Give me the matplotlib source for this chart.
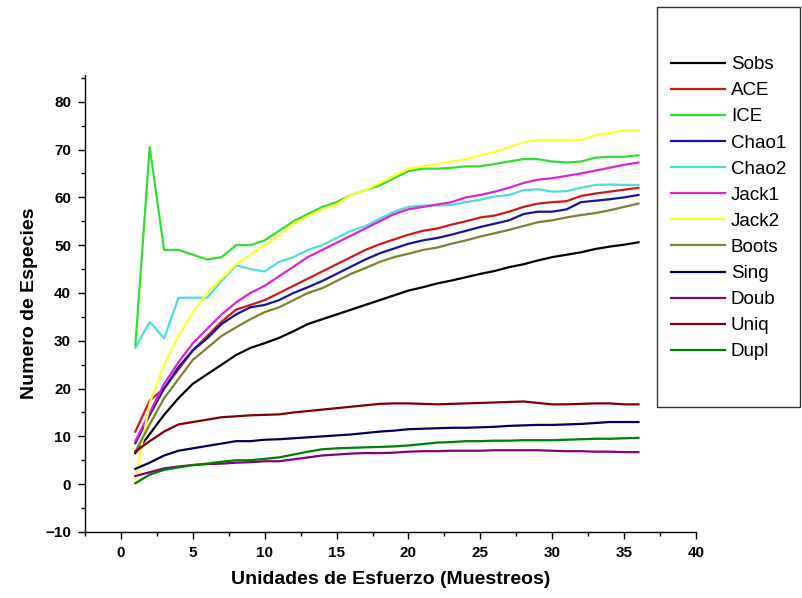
import matplotlib
matplotlib.use("Agg")
import matplotlib.pyplot as plt
from matplotlib.patches import Rectangle
from matplotlib.ticker import MultipleLocator

plt.rcParams['font.family'] = ['Liberation Sans', 'DejaVu Sans']

# muestreos 1..36
muestreos = list(range(1, 37))

sobs = [6.5, 10.5, 14.5, 18, 21, 23, 25, 27, 28.5, 29.5, 30.6, 32, 33.5, 34.5, 35.5, 36.5,
        37.5, 38.5, 39.5, 40.5, 41.2, 42, 42.6, 43.3, 44, 44.6, 45.4, 46, 46.8, 47.5, 48,
        48.5, 49.2, 49.7, 50.1, 50.6]
ace = [11, 17.5, 20, 24, 28, 31, 34, 36.5, 37.5, 38.5, 40, 41.5, 43, 44.5, 46, 47.5, 49,
       50.2, 51.2, 52.2, 53, 53.5, 54.3, 55, 55.8, 56.2, 57, 58, 58.7, 59, 59.2, 60.3, 60.8,
       61.2, 61.6, 62]
ice = [29, 70.5, 49, 49, 48, 47, 47.5, 50, 50, 51, 53, 55, 56.5, 58, 59, 60.5, 61.5, 62.5,
       64, 65.5, 66, 66, 66.2, 66.5, 66.5, 67, 67.5, 68, 68, 67.5, 67.3, 67.5, 68.3, 68.5,
       68.5, 68.8]
chao1 = [8.6, 14.5, 20, 24.5, 28, 30.5, 33.5, 35.5, 37, 37.5, 38.5, 40, 41.2, 42.5, 44, 45.5,
         47, 48.3, 49.3, 50.3, 51, 51.5, 52.2, 53, 53.8, 54.5, 55.2, 56.5, 57, 57, 57.5, 59,
         59.3, 59.6, 60, 60.5]
chao2 = [28.5, 34, 30.5, 39, 39, 39, 42.5, 45.8, 45, 44.5, 46.5, 47.5, 49, 50, 51.5, 53, 54,
         55.5, 57, 58, 58.3, 58.3, 58.4, 59, 59.5, 60.2, 60.5, 61.5, 61.7, 61.2, 61.3, 62,
         62.6, 62.7, 62.6, 62.6]
jack1 = [9, 15, 21, 25.5, 29.5, 32.5, 35.5, 38, 40, 41.5, 43.5, 45.5, 47.5, 49, 50.5, 52,
         53.5, 55, 56.5, 57.5, 58, 58.5, 59, 60, 60.5, 61.2, 62, 63, 63.7, 64, 64.5, 65, 65.6,
         66.2, 66.8, 67.3]
jack2 = [1, 17, 25, 31, 36, 40, 43, 46, 48, 50, 52, 54.5, 56, 57.5, 58.5, 60.5, 61.5, 63,
         64.5, 66, 66.5, 67, 67.5, 68, 68.8, 69.5, 70.5, 71.5, 72, 72, 72, 72, 73, 73.5, 74, 74]
boots = [6.8, 12.5, 18, 22, 26, 28.5, 31, 32.8, 34.5, 36, 37, 38.5, 40, 41, 42.5, 44, 45.2,
         46.5, 47.5, 48.2, 49, 49.5, 50.3, 51, 51.8, 52.5, 53.2, 54, 54.8, 55.2, 55.8, 56.3,
         56.7, 57.3, 58, 58.7]
sing = [3.2, 4.5, 6, 7, 7.5, 8, 8.5, 9, 9, 9.3, 9.4, 9.6, 9.8, 10, 10.2, 10.4, 10.7, 11,
        11.2, 11.5, 11.6, 11.7, 11.8, 11.8, 11.9, 12, 12.2, 12.3, 12.4, 12.4, 12.5, 12.6,
        12.8, 13, 13, 13]
doub = [1.7, 2.5, 3.3, 3.7, 4, 4.2, 4.3, 4.5, 4.6, 4.8, 4.8, 5.2, 5.6, 6, 6.2, 6.4, 6.5,
        6.5, 6.6, 6.8, 6.9, 6.9, 7, 7, 7, 7.1, 7.1, 7.1, 7.1, 7, 6.9, 6.9, 6.8, 6.8, 6.7, 6.7]
uniq = [6.8, 9, 11, 12.5, 13, 13.5, 14, 14.2, 14.4, 14.5, 14.6, 15, 15.3, 15.6, 15.9, 16.2,
        16.5, 16.8, 16.9, 16.9, 16.8, 16.7, 16.8, 16.9, 17, 17.1, 17.2, 17.3, 17, 16.7, 16.7,
        16.8, 16.9, 16.9, 16.7, 16.7]
dupl = [0.2, 2, 3, 3.5, 4, 4.3, 4.7, 5, 5, 5.3, 5.6, 6.2, 6.8, 7.3, 7.5, 7.6, 7.7, 7.8, 7.9,
        8.1, 8.4, 8.7, 8.8, 9, 9, 9.1, 9.1, 9.2, 9.2, 9.2, 9.3, 9.4, 9.5, 9.5, 9.6, 9.7]

nombres = ['Sobs', 'ACE', 'ICE', 'Chao1', 'Chao2', 'Jack1', 'Jack2', 'Boots',
           'Sing', 'Doub', 'Uniq', 'Dupl']
series = [sobs, ace, ice, chao1, chao2, jack1, jack2, boots, sing, doub, uniq, dupl]
colores = ['#000000', '#d01818', '#33dd33', '#1414a0', '#4ddddd', '#dd22dd', '#ffff33',
           '#808030', '#000060', '#800080', '#800000', '#008000']

fig = plt.figure(figsize=(8.03, 5.98), dpi=100)
ax = fig.add_axes([0.1059, 0.1104, 0.7608, 0.7642])

lineas = []
for nombre, datos, color in zip(nombres, series, colores):
    l, = ax.plot(muestreos, datos, color=color, lw=1.6, label=nombre)
    lineas.append(l)

ax.set_xlim(-2.5, 40)
ax.set_ylim(-10, 85.6)
ax.xaxis.set_major_locator(MultipleLocator(5))
ax.xaxis.set_minor_locator(MultipleLocator(2.5))
ax.yaxis.set_major_locator(MultipleLocator(10))
ax.yaxis.set_minor_locator(MultipleLocator(5))
ax.spines['top'].set_visible(False)
ax.spines['right'].set_visible(False)
for s in ['left', 'bottom']:
    ax.spines[s].set_linewidth(1.0)
ax.tick_params(which='major', direction='out', length=5, width=1, labelsize=11, pad=5)
ax.tick_params(which='minor', direction='out', length=3, width=1)
for t in ax.get_xticklabels() + ax.get_yticklabels():
    t.set_fontweight('bold')

ax.set_xlabel('Unidades de Esfuerzo (Muestreos)', fontsize=14, fontweight='bold', labelpad=8)
ax.set_ylabel('Numero de Especies', fontsize=14, fontweight='bold', labelpad=5)

# caja de la leyenda
fig.add_artist(Rectangle((657 / 803, 1 - 407 / 598), 143 / 803, 400 / 598,
                         transform=fig.transFigure, fill=False, edgecolor='#333333', lw=1.0))
fig.legend(handles=lineas, loc='upper left', bbox_to_anchor=(671 / 803, 1 - 56 / 598),
           frameon=False, fontsize=13.5, handlelength=2.9, handletextpad=0.3,
           labelspacing=0.48, borderpad=0, borderaxespad=0)

fig.savefig('out.png', dpi=100)
